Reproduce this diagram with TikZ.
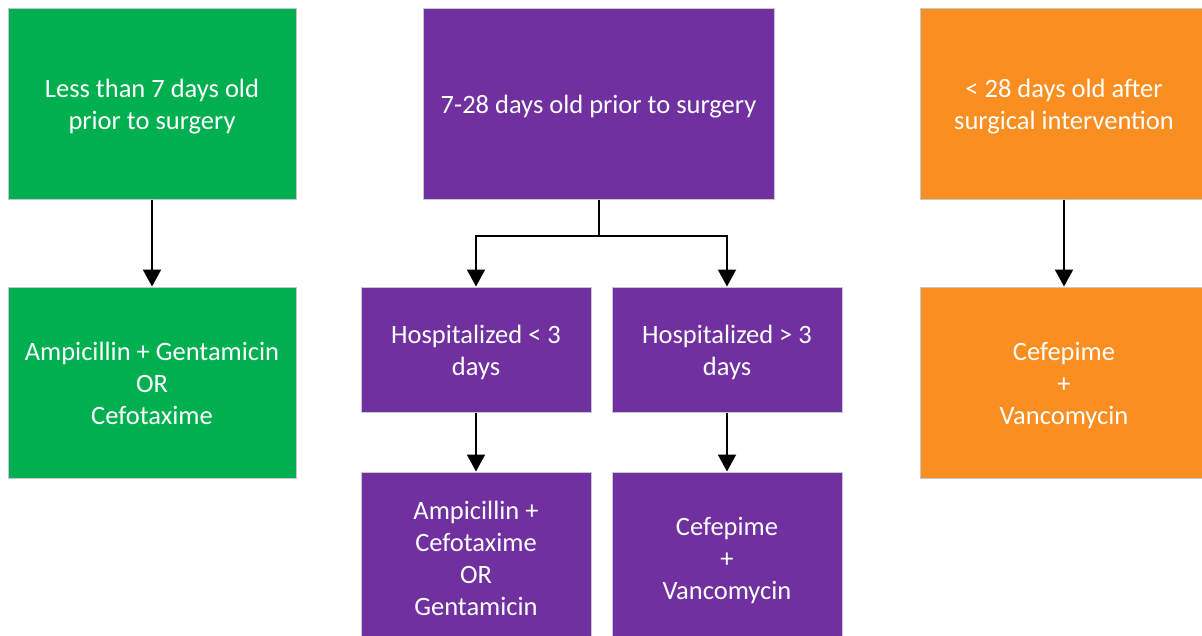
\documentclass[tikz,border=0pt]{standalone}
\usepackage{fontspec}
\setmainfont{Carlito}
\usetikzlibrary{arrows.meta}
\definecolor{cgreen}{RGB}{0,176,80}
\definecolor{cpurple}{RGB}{112,48,160}
\definecolor{corange}{RGB}{250,142,32}
\definecolor{cborder}{RGB}{196,200,208}
\newcommand\fstrut{\rule{0pt}{30.4pt}}
\newcommand\lstrut{\rule[-9.6pt]{0pt}{9.6pt}}
\tikzset{
  box/.style={draw=cborder, line width=1pt, inner sep=0pt, align=center, text=white,
    font=\fontsize{26.5}{32}\selectfont},
  gbox/.style={box, fill=cgreen, minimum width=288pt, minimum height=191pt},
  obox/.style={box, fill=corange, minimum width=288pt, minimum height=191pt},
  ptop/.style={box, fill=cpurple, minimum width=351pt, minimum height=191pt},
  pmid/.style={box, fill=cpurple, minimum width=230pt, minimum height=125pt},
  pbot/.style={box, fill=cpurple, minimum width=230pt, minimum height=170pt},
  arr/.style={line width=2pt, -{Triangle[width=18pt,length=17pt]}},
  ln/.style={line width=2pt}
}
\begin{document}
\begin{tikzpicture}[x=1pt,y=-1pt]
\useasboundingbox (0,0) rectangle (1202,635);
\clip (0,0) rectangle (1202,635);
\node[gbox] (g1) at (152,103.5) {\fstrut Less than 7 days old\\prior to surgery\lstrut};
\node[gbox] (g2) at (152,382.5) {\fstrut Ampicillin + Gentamicin\\OR\\Cefotaxime\lstrut};
\node[ptop] (p1) at (598.5,103.5) {\fstrut 7-28 days old prior to surgery\lstrut};
\node[pmid] (p2) at (476,349.5) {\fstrut Hospitalized < 3\\days\lstrut};
\node[pmid] (p3) at (727,349.5) {\fstrut Hospitalized > 3\\days\lstrut};
\node[pbot] (p4) at (476,557) {\fstrut Ampicillin +\\Cefotaxime\\OR\\Gentamicin\lstrut};
\node[pbot] (p5) at (727,557) {\fstrut Cefepime\\+\\Vancomycin\lstrut};
\node[obox] (o1) at (1064,103.5) {\fstrut < 28 days old after\\surgical intervention\lstrut};
\node[obox] (o2) at (1064,382.5) {\fstrut Cefepime\\+\\Vancomycin\lstrut};
\coordinate (br) at (598.5,236);
\draw[arr] (g1.south) -- (g2.north);
\draw[arr] (o1.south) -- (o2.north);
\draw[ln] (p1.south) -- (br);
\draw[arr] (br) -| (p2.north);
\draw[arr] (br) -| (p3.north);
\draw[arr] (p2.south) -- (p4.north);
\draw[arr] (p3.south) -- (p5.north);
\end{tikzpicture}
\end{document}
